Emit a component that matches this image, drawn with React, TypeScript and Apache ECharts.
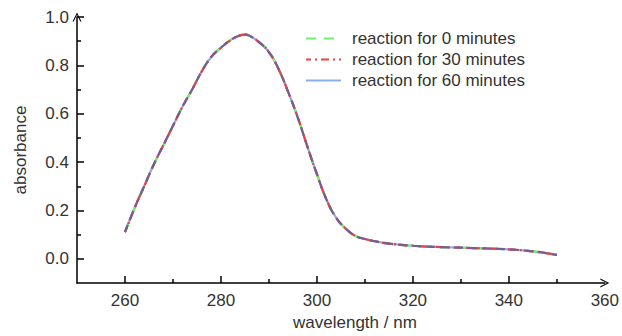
import React, { useEffect, useRef } from "react";
import * as echarts from "echarts";

const wavelengths = [260, 262, 264, 266, 268, 270, 272, 274, 276, 278, 280, 282, 284, 285, 286, 288, 290, 292, 294, 296, 298, 300, 302, 304, 306, 308, 310, 312, 315, 320, 325, 330, 335, 340, 345, 350];
const absorbance0 = [0.11, 0.21, 0.3, 0.39, 0.47, 0.55, 0.63, 0.7, 0.775, 0.835, 0.873, 0.904, 0.924, 0.927, 0.922, 0.895, 0.855, 0.785, 0.69, 0.585, 0.465, 0.35, 0.245, 0.17, 0.125, 0.095, 0.082, 0.073, 0.063, 0.054, 0.049, 0.046, 0.043, 0.039, 0.031, 0.016];
const absorbance30 = [0.11, 0.21, 0.3, 0.39, 0.47, 0.55, 0.63, 0.7, 0.775, 0.835, 0.873, 0.904, 0.924, 0.927, 0.922, 0.895, 0.855, 0.785, 0.69, 0.585, 0.465, 0.35, 0.245, 0.17, 0.125, 0.095, 0.082, 0.073, 0.063, 0.054, 0.049, 0.046, 0.043, 0.039, 0.031, 0.016];
const absorbance60 = [0.11, 0.21, 0.3, 0.39, 0.47, 0.55, 0.63, 0.7, 0.775, 0.835, 0.873, 0.904, 0.924, 0.927, 0.922, 0.895, 0.855, 0.785, 0.69, 0.585, 0.465, 0.35, 0.245, 0.17, 0.125, 0.095, 0.082, 0.073, 0.063, 0.054, 0.049, 0.046, 0.043, 0.039, 0.031, 0.016];
const seriesNames = ["reaction for 0 minutes", "reaction for 30 minutes", "reaction for 60 minutes"];

const xLabelValues = [260, 280, 300, 320, 340, 360];
const xMajorTicks = [260, 280, 300, 320, 340];
const xMinorTicks = [270, 290, 310, 330, 350];
const yLabelValues = [0, 0.2, 0.4, 0.6, 0.8, 1.0];
const yMinorTicks = [0.1, 0.3, 0.5, 0.7, 0.9];

const FONT = "Liberation Sans, Arial, sans-serif";
const TEXT = "#333";
const CHEVRON = "path://M0,10 L5,0 L10,10 L8.6,10 L5,2.6 L1.4,10 Z";

const pairs = (ys: number[]) => wavelengths.map((w, i) => [w, ys[i]]);

export default function App() {
  const ref = useRef<HTMLDivElement>(null);
  useEffect(() => {
    if (!ref.current) return;
    const chart = echarts.init(ref.current, null, { renderer: "svg" });
    const axisLine = {
      show: true,
      onZero: false,
      lineStyle: { color: "#000", width: 1.5 },
      symbol: ["none", CHEVRON],
      symbolSize: [10, 9],
    };
    chart.setOption({
      animation: false,
      grid: { left: 77, right: 13, top: 17, bottom: 48, containLabel: false },
      legend: {
        orient: "vertical",
        left: 300,
        top: 25,
        itemWidth: 35,
        itemHeight: 12,
        itemGap: 4,
        itemStyle: { opacity: 0 },
        textStyle: { fontFamily: FONT, fontSize: 17, color: TEXT, padding: [0, 0, 0, 6] },
        data: seriesNames,
      },
      xAxis: [
        {
          type: "value",
          position: "bottom",
          min: 250,
          max: 360,
          name: "wavelength / nm",
          nameLocation: "middle",
          nameGap: 31,
          nameTextStyle: { fontFamily: FONT, fontSize: 17, color: TEXT, padding: [0, 0, 0, 28] },
          axisLine,
          axisTick: { show: true, inside: true, length: 7, customValues: xMajorTicks, lineStyle: { color: "#000", width: 1.5 } },
          axisLabel: { customValues: xLabelValues, fontFamily: FONT, fontSize: 17, color: TEXT, margin: 9 },
          splitLine: { show: false },
        },
        {
          type: "value",
          position: "bottom",
          min: 250,
          max: 360,
          axisLine: { show: false, onZero: false },
          axisTick: { show: true, inside: true, length: 4, customValues: xMinorTicks, lineStyle: { color: "#000", width: 1.5 } },
          axisLabel: { show: false },
          splitLine: { show: false },
        },
      ],
      yAxis: [
        {
          type: "value",
          position: "left",
          min: -0.1,
          max: 1.0,
          name: "absorbance",
          nameLocation: "middle",
          nameGap: 48,
          nameTextStyle: { fontFamily: FONT, fontSize: 17, color: TEXT },
          axisLine,
          axisTick: { show: true, inside: true, length: 7, customValues: yLabelValues, lineStyle: { color: "#000", width: 1.5 } },
          axisLabel: {
            customValues: yLabelValues,
            fontFamily: FONT,
            fontSize: 17,
            color: TEXT,
            margin: 8,
            formatter: (v: number) => v.toFixed(1),
          },
          splitLine: { show: false },
        },
        {
          type: "value",
          position: "left",
          min: -0.1,
          max: 1.0,
          axisLine: { show: false, onZero: false },
          axisTick: { show: true, inside: true, length: 4, customValues: yMinorTicks, lineStyle: { color: "#000", width: 1.5 } },
          axisLabel: { show: false },
          splitLine: { show: false },
        },
      ],
      series: [
        {
          name: seriesNames[2],
          type: "line",
          data: pairs(absorbance60),
          smooth: true,
          symbol: "none",
          lineStyle: { color: "#8aaee8", width: 2.2, type: "solid" },
          itemStyle: { color: "#8aaee8" },
          z: 2,
        },
        {
          name: seriesNames[0],
          type: "line",
          data: pairs(absorbance0),
          smooth: true,
          symbol: "none",
          lineStyle: { color: "#6cf56c", width: 2.2, type: [10, 8] },
          itemStyle: { color: "#6cf56c" },
          z: 3,
        },
        {
          name: seriesNames[1],
          type: "line",
          data: pairs(absorbance30),
          smooth: true,
          symbol: "none",
          lineStyle: { color: "#ef4040", width: 2.2, type: [8, 4, 2, 4], dashOffset: 3 },
          itemStyle: { color: "#ef4040" },
          z: 4,
        },
        {
          name: "overlap",
          type: "line",
          data: pairs(absorbance60),
          smooth: true,
          symbol: "none",
          silent: true,
          lineStyle: { color: "#7a5c92", width: 2.2, type: [9, 5], dashOffset: 1 },
          itemStyle: { color: "#7a5c92" },
          z: 5,
        },
      ],
    });
    return () => chart.dispose();
  }, []);
  return <div ref={ref} style={{ position: "absolute", left: 0, top: 0, width: 622, height: 336 }} />;
}
